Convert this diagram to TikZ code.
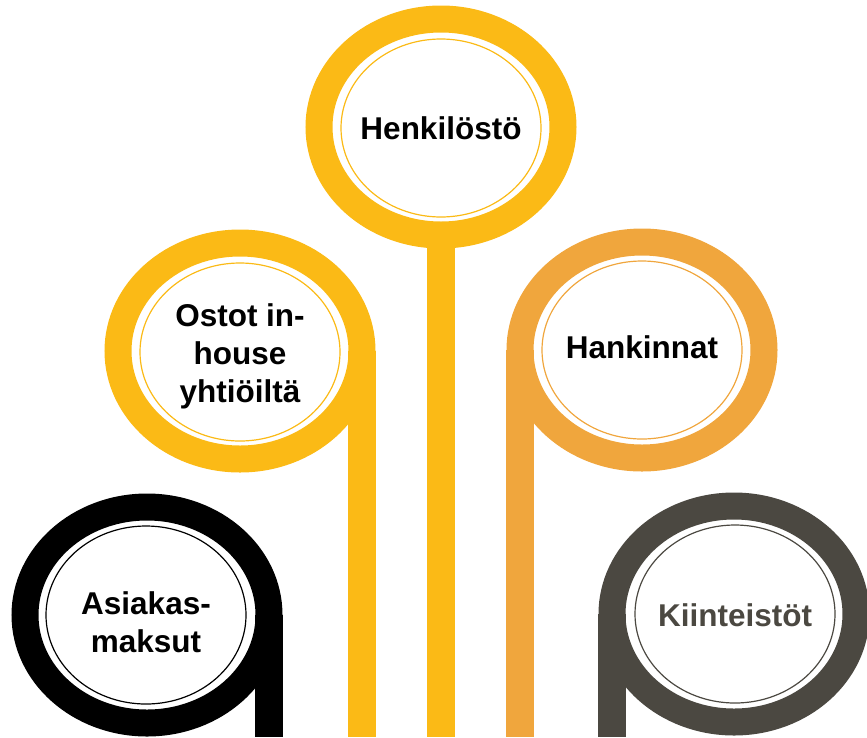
\documentclass[tikz,border=0pt]{standalone}
\usepackage{fontspec}
\setmainfont{Liberation Sans}
\usetikzlibrary{shapes.geometric}
\definecolor{cyellow}{HTML}{FBBA16}
\definecolor{corange}{HTML}{F0A63D}
\definecolor{cblack}{HTML}{000000}
\definecolor{cgray}{HTML}{4B4841}
\tikzset{
  ring/.style={ellipse, draw=#1, line width=27pt, minimum width=244pt, minimum height=216pt, inner sep=0pt, outer sep=0pt},
  thinring/.style={ellipse, draw=#1, line width=1.2pt, minimum width=200pt, minimum height=178pt, inner sep=0pt, outer sep=0pt},
  label/.style={font=\bfseries\fontsize{31.5}{38}\selectfont, align=center, text=#1},
  stem/.style={draw=#1, line width=28pt, line cap=butt}
}
\begin{document}
\begin{tikzpicture}[x=1pt,y=-1pt]
\useasboundingbox (0,0) rectangle (867,737);
\coordinate (bottom) at (0,737);
% Henkilosto
\node[ring=cyellow] (hR) at (441,127) {};
\node[thinring=cyellow] (hT) at (441,128) {};
\node[label=black] (hL) at (441,128) {Henkilöstö};
\draw[stem=cyellow] (hR.south) -- (hR.south |- bottom);
% Ostot
\node[ring=cyellow] (oR) at (240,351) {};
\node[thinring=cyellow] (oT) at (240,352) {};
\node[label=black] (oL) at (240,356) {Ostot in-\\house\\yhtiöiltä};
\draw[stem=cyellow] (oR.east) -- (oR.east |- bottom);
% Hankinnat
\node[ring=corange] (kR) at (642,350) {};
\node[thinring=corange] (kT) at (642,350) {};
\node[label=black] (kL) at (642,347) {Hankinnat};
\draw[stem=corange] (kR.west) -- (kR.west |- bottom);
% Asiakasmaksut
\node[ring=cblack] (aR) at (147,615) {};
\node[thinring=cblack] (aT) at (146,615) {};
\node[label=black] (aL) at (146,622) {Asiakas-\\maksut};
\draw[stem=cblack] (aR.east) -- (aR.east |- bottom);
% Kiinteistot
\node[ring=cgray] (tR) at (734,614) {};
\node[thinring=cgray] (tT) at (735,614) {};
\node[label=cgray] (tL) at (735,615) {Kiinteistöt};
\draw[stem=cgray] (tR.west) -- (tR.west |- bottom);
\end{tikzpicture}
\end{document}
